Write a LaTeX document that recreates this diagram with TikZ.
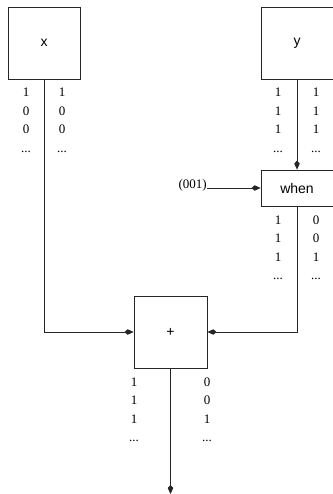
\documentclass[tikz,border=0pt]{standalone}
\usepackage{fontspec}
\setmainfont{Liberation Serif}
\newfontfamily\labfont{Liberation Sans}
\usetikzlibrary{arrows.meta}
\newcommand{\mydts}{...}
\tikzset{
  blk/.style={draw=black!85, line width=0.8pt, rectangle, inner sep=0pt,
    font=\labfont\fontsize{14}{16}\selectfont},
  conn/.style={draw=black!85, line width=0.8pt},
  arr/.style={conn, -{Kite[length=9pt,width=5.5pt,inset=3pt]}},
  num/.style={inner sep=0pt, anchor=base, font=\fontsize{13}{15}\selectfont},
}
\begin{document}
\begin{tikzpicture}[x=1pt,y=-1pt]
\useasboundingbox (0,0) rectangle (332,494);
\node[blk, minimum width=72pt, minimum height=72pt] (bx) at (44,43) {x};
\node[blk, minimum width=72pt, minimum height=72pt] (by) at (297,43) {y};
\node[blk, minimum width=72pt, minimum height=36pt] (bw) at (297,188) {when};
\node[blk, minimum width=73pt, minimum height=72pt] (bp) at (170.5,332) {+};
\node[num, anchor=base east] (lab) at (207,188) {(001)};
\coordinate (out) at (170.5,494);
% connectors
\draw[arr] (bx.south) |- (bp.west);
\draw[arr] (by.south) -- (bw.north);
\draw[arr] (lab.base east) -- (bw.west);
\draw[arr] (bw.south) |- (bp.east);
\draw[arr] (bp.south) -- (out);
% numbers under x
\foreach \v/\w [count=\i] in {1/1,0/0,0/0,\mydts/\mydts}{
  \node[num] (xl\i) at (26,97+18.5*\i-18.5) {\v};
  \node[num] (xr\i) at (62,97+18.5*\i-18.5) {\w};
}
% numbers under y
\foreach \v/\w [count=\i] in {1/1,1/1,1/1,\mydts/\mydts}{
  \node[num] (yl\i) at (278,97+18.5*\i-18.5) {\v};
  \node[num] (yr\i) at (316,97+18.5*\i-18.5) {\w};
}
% numbers under when
\foreach \v/\w [count=\i] in {1/0,1/0,1/1,\mydts/\mydts}{
  \node[num] (wl\i) at (278,224+18.5*\i-18.5) {\v};
  \node[num] (wr\i) at (316,224+18.5*\i-18.5) {\w};
}
% numbers under +
\foreach \v/\w [count=\i] in {1/0,1/0,1/1,\mydts/\mydts}{
  \node[num] (pl\i) at (134,386+18.5*\i-18.5) {\v};
  \node[num] (pr\i) at (207,386+18.5*\i-18.5) {\w};
}
\end{tikzpicture}
\end{document}
